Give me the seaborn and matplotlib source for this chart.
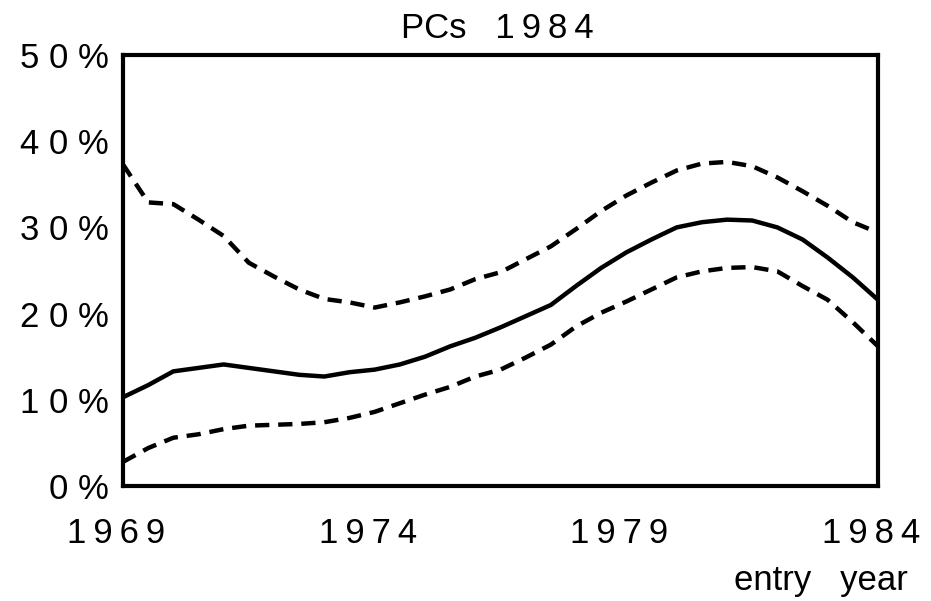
import numpy as np
import pandas as pd
import seaborn as sns
import matplotlib.pyplot as plt
import matplotlib.transforms as mtransforms
from matplotlib.ticker import FuncFormatter

# values, half-year steps
years = [1969 + 0.5 * i for i in range(31)]
estimate = [10.3, 11.7, 13.3, 13.7, 14.1, 13.7, 13.3, 12.9, 12.7, 13.2, 13.5,
            14.1, 15.0, 16.2, 17.2, 18.4, 19.7, 21.0, 23.2, 25.3, 27.1,
            28.6, 30.0, 30.6, 30.9, 30.8, 30.0, 28.6, 26.5, 24.2, 21.6]
upper = [37.3, 32.9, 32.7, 30.9, 29.0, 25.9, 24.3, 22.8, 21.7, 21.3, 20.7,
         21.3, 22.0, 22.8, 24.0, 24.8, 26.3, 27.8, 29.8, 31.9, 33.7,
         35.2, 36.6, 37.4, 37.6, 37.1, 35.8, 34.2, 32.5, 30.6, 29.4]
lower = [2.8, 4.4, 5.6, 6.0, 6.6, 7.0, 7.1, 7.2, 7.4, 7.9, 8.6,
         9.6, 10.6, 11.5, 12.7, 13.5, 14.9, 16.4, 18.5, 20.1, 21.4,
         22.8, 24.2, 24.9, 25.3, 25.4, 24.9, 23.2, 21.6, 19.0, 16.2]
year_ticks = [1969, 1974, 1979, 1984]
pct_ticks = [0, 10, 20, 30, 40, 50]

df = pd.DataFrame({"year": years, "estimate": estimate,
                   "upper": upper, "lower": lower})
df[["estimate", "upper", "lower"]] = df[["estimate", "upper", "lower"]] / 100

sns.set_style("white")
plt.rcParams['font.family'] = ['Liberation Sans', 'DejaVu Sans']
plt.rcParams['text.color'] = 'black'
thin = "\u2009"

fig = plt.figure(figsize=(9.31, 6.01), dpi=100)
ax = fig.add_axes([123 / 931, 1 - 486 / 601, 755 / 931, 431 / 601])

dash = (0, (3.2, 2.0))
sns.lineplot(data=df, x="year", y="upper", ax=ax, color="black", lw=3.2,
             linestyle=dash)
sns.lineplot(data=df, x="year", y="lower", ax=ax, color="black", lw=3.2,
             linestyle=dash)
sns.lineplot(data=df, x="year", y="estimate", ax=ax, color="black", lw=3.2)

ax.set_xlim(year_ticks[0], year_ticks[-1])
ax.set_ylim(0, 0.5)
ax.set_xticks(year_ticks)
ax.set_yticks([p / 100 for p in pct_ticks])
ax.xaxis.set_major_formatter(FuncFormatter(lambda v, pos: thin.join(str(int(round(v))))))
ax.yaxis.set_major_formatter(FuncFormatter(lambda v, pos: " ".join(f"{v * 100:.0f}%")))
ax.set_xlabel("")
ax.set_ylabel("")

for sp in ax.spines.values():
    sp.set_visible(True)
    sp.set_color("black")
    sp.set_linewidth(3)
ax.tick_params(axis="both", direction="out", length=6, width=1,
               color="#444444", labelsize=25, labelcolor="black")
ax.tick_params(axis="x", pad=16)
ax.tick_params(axis="y", pad=4)

# year labels sit a bit left of their ticks in the original
shift = mtransforms.ScaledTranslation(-7 / 100, 0, fig.dpi_scale_trans)
for lab in ax.get_xticklabels():
    lab.set_transform(lab.get_transform() + shift)

fig.text(497 / 931, 1 - 38 / 601, "PCs   " + thin.join("1984"), ha="center",
         va="baseline", fontsize=25, color="black")
fig.text(908 / 931, 1 - 590 / 601, "entry   year", ha="right",
         va="baseline", fontsize=25, color="black")

fig.savefig("out.png", dpi=100)
